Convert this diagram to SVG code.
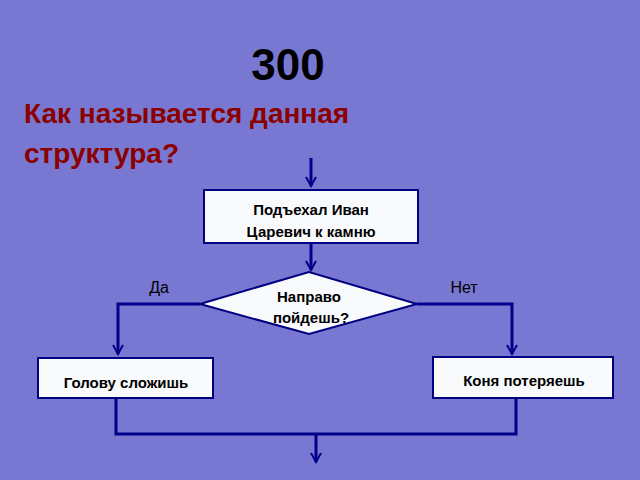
<svg xmlns="http://www.w3.org/2000/svg" width="640" height="480" viewBox="0 0 640 480">
<style>
.ln{stroke:#00008B;stroke-width:3;fill:none}
.bx{fill:#F8FAFC;stroke:#000080;stroke-width:2}
.t{font-family:"Liberation Sans",Arial,sans-serif;font-weight:bold;font-size:15px;fill:#000;text-anchor:middle}
.l{font-family:"Liberation Sans",Arial,sans-serif;font-size:16px;fill:#000;text-anchor:middle}
</style>
<defs><marker id="a" markerWidth="12" markerHeight="12" refX="10" refY="6" orient="auto" markerUnits="userSpaceOnUse"><path d="M1,1 L10,6 L1,11" fill="none" stroke="#00008B" stroke-width="2"/></marker></defs>
<rect width="640" height="480" fill="#7878D2"/>
<text x="288" y="80" font-family="Liberation Sans,Arial,sans-serif" font-weight="bold" font-size="44" text-anchor="middle">300</text>
<text font-family="Liberation Sans,Arial,sans-serif" font-weight="bold" font-size="28" fill="#8B0000"><tspan x="24" y="123">Как называется данная</tspan><tspan x="24" y="163">структура?</tspan></text>
<g id="connectors">
<path class="ln" d="M311,158 V186" marker-end="url(#a)"/>
<path class="ln" d="M311,243 V270" marker-end="url(#a)"/>
<path class="ln" d="M200,304 H118 V354" marker-end="url(#a)"/>
<path class="ln" d="M417,304 H512 V354" marker-end="url(#a)"/>
<path class="ln" d="M116,398 V434 H516 V398"/>
<path class="ln" d="M316,434 V462" marker-end="url(#a)"/>
</g>
<g id="n1"><rect class="bx" x="204" y="190" width="214" height="53"/><text class="t"><tspan x="311" y="215">Подъехал Иван</tspan><tspan x="311" y="237">Царевич к камню</tspan></text></g>
<g id="n2"><path class="bx" d="M200,304 L309,272 L417,304 L309,334 Z"/><text class="t"><tspan x="309" y="302">Направо</tspan><tspan x="311" y="323">пойдешь?</tspan></text></g>
<g id="n3"><rect class="bx" x="38" y="358" width="175" height="40"/><text class="t" x="126" y="388">Голову сложишь</text></g>
<g id="n4"><rect class="bx" x="433" y="357" width="180" height="41"/><text class="t" x="524" y="386">Коня потеряешь</text></g>
<text class="l" x="159" y="293">Да</text>
<text class="l" x="464" y="293">Нет</text>
</svg>
